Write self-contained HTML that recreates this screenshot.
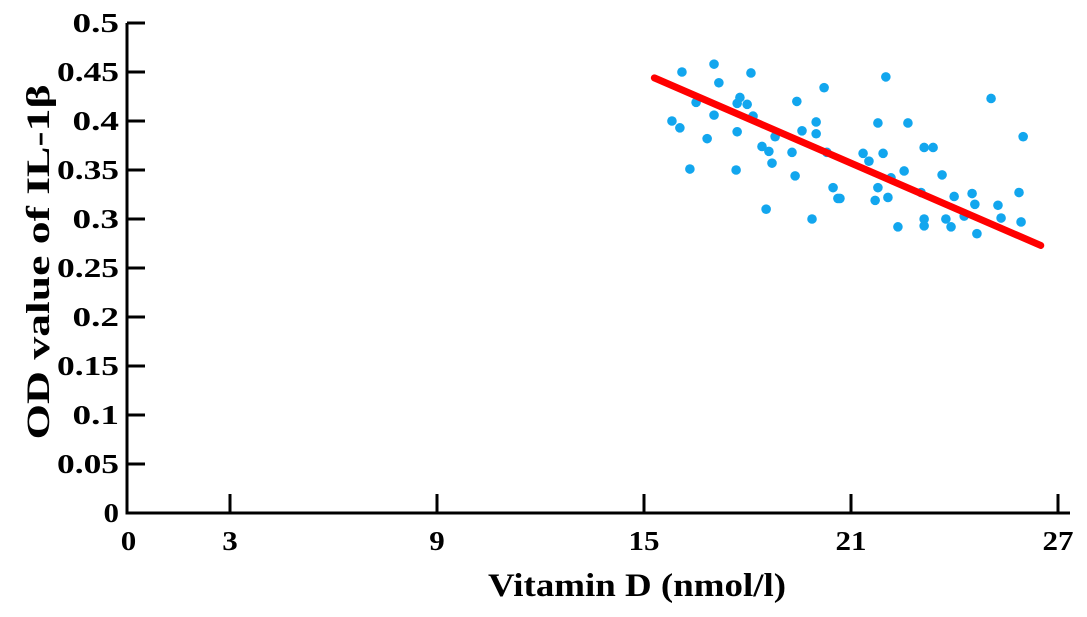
<!DOCTYPE html>
<html><head><meta charset="utf-8"><style>
body{margin:0;background:#fff}
svg{display:block;font-family:"Liberation Serif",serif;font-weight:bold}
</style></head><body>
<svg id="chart" width="1087" height="617"></svg>
<script>
const xVals=[16.10,17.03,18.10,17.17,20.22,16.51,17.78,17.70,17.99,19.43,18.16,17.03,15.81,16.04,19.99,19.58,19.99,17.70,16.83,18.80,18.42,18.62,19.29,20.30,18.71,16.33,17.67,19.38,20.48,20.62,18.54,19.87,
22.01,25.06,21.78,22.65,25.99,23.12,23.38,21.35,21.52,21.93,22.54,23.64,22.16,20.68,21.78,21.70,22.07,23.03,23.99,24.51,24.59,25.26,25.87,24.28,23.12,23.12,23.75,23.90,22.36,25.35,25.93,24.65];
const yVals=[.450,.458,.449,.439,.434,.419,.424,.418,.417,.420,.405,.406,.400,.393,.399,.390,.387,.389,.382,.384,.374,.369,.368,.368,.357,.351,.350,.344,.332,.321,.310,.300,
.445,.423,.398,.398,.384,.373,.373,.367,.359,.367,.349,.345,.342,.321,.332,.319,.322,.327,.323,.326,.315,.314,.327,.303,.300,.293,.300,.292,.292,.301,.297,.285];
const fitX=[15.3,26.5];
const fitY=[0.444,0.273];
const xTicks=[0,3,9,15,21,27];
const yTicks=[0,0.05,0.1,0.15,0.2,0.25,0.3,0.35,0.4,0.45,0.5];
const yTickLabels=["0","0.05","0.1","0.15","0.2","0.25","0.3","0.35","0.4","0.45","0.5"];
const NS="http://www.w3.org/2000/svg";
const svg=document.getElementById('chart');
const X=v=>126.5+v*34.5;
const Y=v=>513-v*980;
function mk(t,a,p){const e=document.createElementNS(NS,t);for(const k in a)e.setAttribute(k,a[k]);(p||svg).appendChild(e);return e;}
let ax=mk('line',{x1:127,y1:Y(0),x2:1070,y2:Y(0),stroke:'#000','stroke-width':3});


let ay=mk('line',{x1:127,y1:Y(0)+1.5,x2:127,y2:Y(0.5),stroke:'#000','stroke-width':3});


yTicks.forEach((v,i)=>{
  let t=mk('line',{x1:127,y1:Y(v),x2:145,y2:Y(v),stroke:'#000','stroke-width':3});
  
  
  const s=yTickLabels[i];
  let l=mk('text',{x:119,y:Y(v)+9,'text-anchor':'end','font-size':27,textLength:s.length*15.5,lengthAdjust:'spacingAndGlyphs'});
  l.textContent=s;
  
  
});
xTicks.forEach(v=>{
  if(v>0){let t=mk('line',{x1:X(v),y1:Y(0),x2:X(v),y2:Y(0)-19,stroke:'#000','stroke-width':3});
  
  }
  const s=String(v);
  let l=mk('text',{x:X(v)+(v==0?2:0),y:550,'text-anchor':'middle','font-size':27,textLength:s.length*15.5,lengthAdjust:'spacingAndGlyphs'});
  l.textContent=s;
  
  
});
xVals.forEach((v,i)=>{
  let c=mk('circle',{cx:X(v),cy:Y(yVals[i]),r:4.8,fill:'#12a6ee'});
  
  
});
let fl=mk('line',{x1:X(fitX[0]),y1:Y(fitY[0]),x2:X(fitX[1]),y2:Y(fitY[1]),stroke:'#f00','stroke-width':7,'stroke-linecap':'round'});


let xt=mk('text',{x:637,y:596,'text-anchor':'middle','font-size':33,textLength:298,lengthAdjust:'spacingAndGlyphs'});
xt.textContent='Vitamin D (nmol/l)';


let yt=mk('text',{x:0,y:0,'text-anchor':'middle','font-size':33,textLength:355,lengthAdjust:'spacingAndGlyphs',transform:'translate(49,262) rotate(-90)'});
yt.textContent='OD value of IL-1β';


</script>
</body></html>
